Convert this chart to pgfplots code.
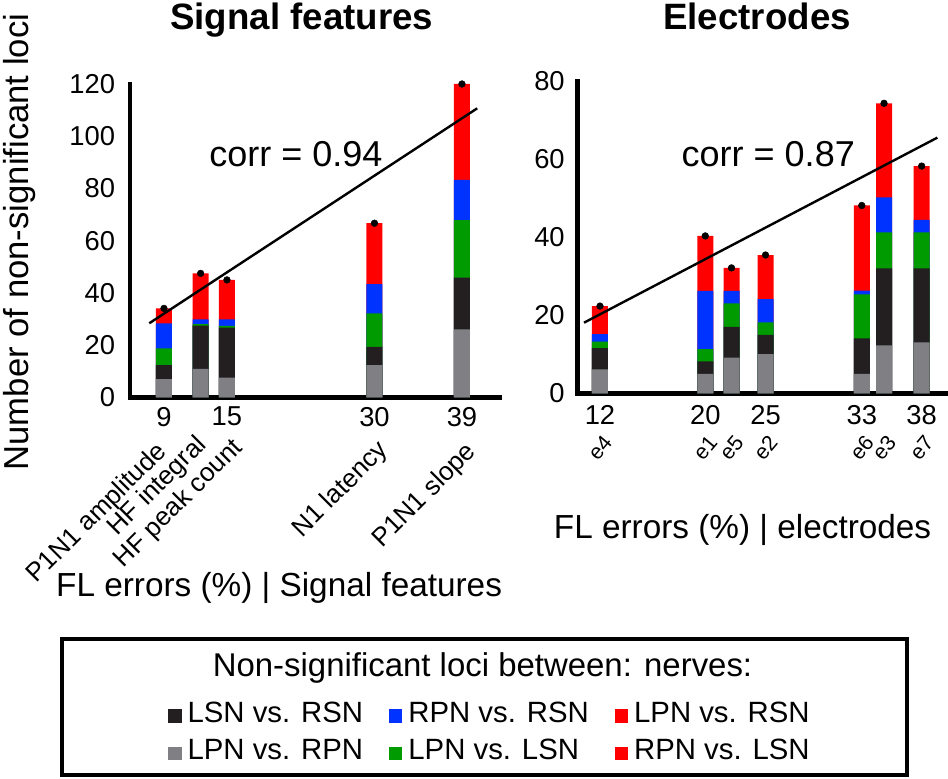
\documentclass[border=0pt]{standalone}
\usepackage{pgfplots}
\pgfplotsset{compat=1.18}
\usepackage{fontspec}
\setmainfont{Liberation Sans}
\definecolor{cgray}{RGB}{128,128,132}
\definecolor{cblack}{RGB}{35,31,32}
\definecolor{cgreen}{RGB}{0,155,0}
\definecolor{cblue}{RGB}{0,51,255}
\definecolor{cred}{RGB}{255,0,0}
\newcommand\fs[1]{\fontsize{#1}{#1}\selectfont}
\pgfplotsset{legend image code/.code={\fill[#1] (0pt,0pt) rectangle (10pt,10pt);}}
\pgfplotsset{
  panel/.style={
    scale only axis, clip=false,
    axis x line=bottom, axis y line=left,
    axis line style={line width=3.5pt,-,line cap=rect},
    major tick length=0pt,
    /pgf/number format/assume math mode=true,
    tick label style={font=\fs{20.5}},
    yticklabel style={inner sep=0pt, anchor=east},
    xticklabel style={inner sep=0pt, anchor=north},
  },
  seg/.style={ybar, bar width=12pt, bar shift=0pt, draw=none, fill=#1, forget plot},
  dots/.style={only marks, mark=*, mark size=2.5pt, black, forget plot},
  trend/.style={black, line width=1.8pt, forget plot},
}
\tikzset{
  elab/.style={rotate=50, anchor=center, inner sep=0pt, font=\fs{16}},
  flab/.style={rotate=45, anchor=east, inner sep=0pt, font=\fs{19.5}},
}
\begin{document}
\begin{tikzpicture}
\path[use as bounding box] (0,0) rectangle (711pt,583.5pt);

% ---------- left panel: signal features ----------
\begin{axis}[panel,
  at={(97.5pt,285.4pt)}, anchor=south west,
  width=277.5pt, height=235.1pt,
  xmin=5.58, xmax=42.83, ymin=0, ymax=120,
  xtick={9,15.34,30.19,39}, xticklabels={9,15,30,39},
  ytick={0,20,...,120},
  xticklabel style={yshift=-7pt},
  yticklabel style={xshift=-11pt},
  legend columns=3,
  legend style={draw=none, fill=none, inner sep=0pt,
    at={(0.1027,-0.9713)}, anchor=north west,
    font=\fs{22}, row sep=11pt,
    cells={anchor=base west}, nodes={inner sep=0pt, anchor=base west},
    /tikz/every odd column/.append style={column sep=4.5pt},
    /tikz/every even column/.append style={column sep=19.5pt}},
]
% cumulative tops of the stacked segments
\addplot[seg=cred]   coordinates {(9,34.1) (12.69,47.5) (15.34,45.0) (30.19,66.7) (39,120)};
\addplot[seg=cblue]  coordinates {(9,28.4) (12.69,29.9) (15.34,29.9) (30.19,43.4) (39,83.3)};
\addplot[seg=cgreen] coordinates {(9,18.8) (12.69,28.1) (15.34,27.4) (30.19,32.2) (39,67.9)};
\addplot[seg=cblack] coordinates {(9,12.4) (12.69,27.5) (15.34,26.7) (30.19,19.4) (39,45.9)};
\addplot[seg=cgray]  coordinates {(9,7.0)  (12.69,10.9) (15.34,7.6)  (30.19,12.4) (39,26.1)};
\addplot[dots] coordinates {(9,34.1) (12.69,47.5) (15.34,45.0) (30.19,66.7) (39,120)};
\addplot[trend] coordinates {(7.52,28.4) (40.54,110.7)};

\addlegendimage{fill=cblack, draw=none}\addlegendentry{LSN vs. RSN}
\addlegendimage{fill=cblue, draw=none}\addlegendentry{RPN vs. RSN}
\addlegendimage{fill=cred, draw=none}\addlegendentry{LPN vs. RSN}
\addlegendimage{fill=cgray, draw=none}\addlegendentry{LPN vs. RPN}
\addlegendimage{fill=cgreen, draw=none}\addlegendentry{LPN vs. LSN}
\addlegendimage{fill=cred, draw=none}\addlegendentry{RPN vs. LSN}

\node[flab] at ([shift={(-0.75pt,-38pt)}]axis cs:9,0) {P1N1 amplitude};
\node[flab] at ([shift={(1.7pt,-33pt)}]axis cs:12.69,0) {HF integral};
\node[flab] at ([shift={(9pt,-35pt)}]axis cs:15.34,0) {HF peak count};
\node[flab] at ([shift={(7.5pt,-36.7pt)}]axis cs:30.19,0) {N1 latency};
\node[flab] at ([shift={(8pt,-38pt)}]axis cs:39,0) {P1N1 slope};
\end{axis}

% ---------- right panel: electrodes ----------
\begin{axis}[panel,
  at={(433.1pt,288.4pt)}, anchor=south west,
  width=277.9pt, height=234pt,
  xmin=10.18, xmax=40.13, ymin=0, ymax=80,
  xtick={12,20.51,25.38,33.16,38}, xticklabels={12,20,25,33,38},
  ytick={0,20,...,80},
  xticklabel style={yshift=-8.6pt},
  yticklabel style={xshift=-9.4pt},
]
\addplot[seg=cred]   coordinates {(12,22.4) (20.51,40.4) (22.63,32.2) (25.38,35.5) (33.16,48.2) (34.96,74.4) (38,58.3)};
\addplot[seg=cblue]  coordinates {(12,15.2) (20.51,26.3) (22.63,26.3) (25.38,24.2) (33.16,26.4) (34.96,50.3) (38,44.5)};
\addplot[seg=cgreen] coordinates {(12,13.3) (20.51,11.4) (22.63,23.1) (25.38,18.2) (33.16,25.4) (34.96,41.3) (38,41.3)};
\addplot[seg=cblack] coordinates {(12,11.6) (20.51,8.2)  (22.63,17.1) (25.38,15.0) (33.16,14.1) (34.96,32.1) (38,32.1)};
\addplot[seg=cgray]  coordinates {(12,6.2)  (20.51,5.0)  (22.63,9.2)  (25.38,10.1) (33.16,5.0)  (34.96,12.3) (38,13.1)};
\addplot[dots] coordinates {(12,22.4) (20.51,40.4) (22.63,32.2) (25.38,35.5) (33.16,48.2) (34.96,74.4) (38,58.3)};
\addplot[trend] coordinates {(10.71,18.15) (39.27,65.6)};

\node[elab] at ([yshift=-40.9pt]axis cs:12,0) {e4};
\node[elab] at ([yshift=-40.9pt]axis cs:20.51,0) {e1};
\node[elab] at ([yshift=-40.9pt]axis cs:22.63,0) {e5};
\node[elab] at ([yshift=-40.9pt]axis cs:25.38,0) {e2};
\node[elab] at ([yshift=-40.9pt]axis cs:33.16,0) {e6};
\node[elab] at ([yshift=-40.9pt]axis cs:34.96,0) {e3};
\node[elab] at ([yshift=-40.9pt]axis cs:38,0) {e7};
\end{axis}

% ---------- titles and labels ----------
\node[anchor=base, inner sep=0pt, font=\fs{27.5}\bfseries] at (226.3pt,561pt) {Signal features};
\node[anchor=base, inner sep=0pt, font=\fs{27.5}\bfseries] at (567.8pt,561pt) {Electrodes};
\node[rotate=90, anchor=base, inner sep=0pt, font=\fs{26}] at (21.2pt,402pt) {Number of non-significant loci};
\node[anchor=base, inner sep=0pt, font=\fs{25}] at (209.3pt,136pt) {FL errors (\%) | Signal features};
\node[anchor=base, inner sep=0pt, font=\fs{25}] at (556.9pt,179.8pt) {FL errors (\%) | electrodes};
\node[anchor=base, inner sep=0pt, font=\fs{27}] at (221.9pt,458.5pt) {corr = 0.94};
\node[anchor=base, inner sep=0pt, font=\fs{27}] at (576.2pt,458.5pt) {corr = 0.87};

% ---------- legend frame and heading ----------
\draw[line width=3.2pt] (46.5pt,104.25pt) rectangle (680.25pt,2.25pt);
\node[anchor=base, inner sep=0pt, font=\fs{24.7}] at (361.9pt,76pt) {Non-significant loci between: nerves:};
\end{tikzpicture}
\end{document}
